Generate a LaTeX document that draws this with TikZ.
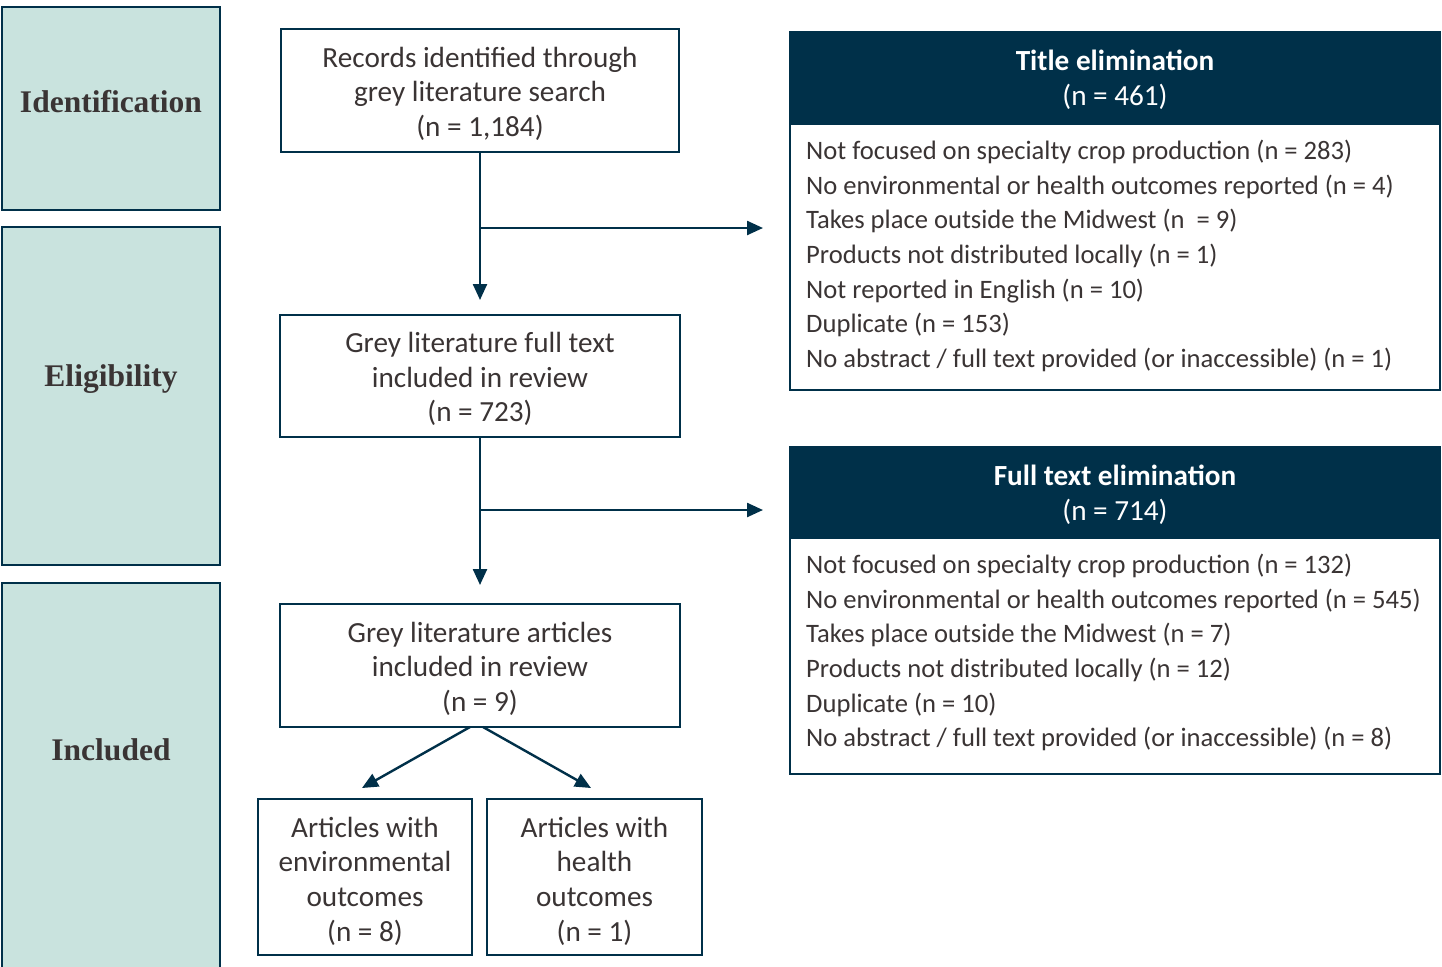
\documentclass[tikz,border=0pt]{standalone}
\usepackage{fontspec}
\setmainfont{Carlito}
\newfontfamily\stagefont{Liberation Serif}
\usetikzlibrary{arrows.meta}
\definecolor{navy}{HTML}{003049}
\definecolor{teal}{HTML}{C9E3DE}
\definecolor{txt}{HTML}{3A3434}
\begin{document}
\begin{tikzpicture}[x=1pt,y=-1pt,
  stage/.style={draw=navy,line width=2.6pt,fill=teal,inner sep=0pt},
  stagelabel/.style={font=\stagefont\bfseries\fontsize{31.5}{36}\selectfont,text=txt,inner sep=0pt},
  flowbox/.style={draw=navy,line width=2.6pt,fill=white,inner sep=0pt},
  flowtext/.style={inner sep=0pt,align=center,font=\fontsize{29.2}{34.6}\selectfont,text=txt},
  headbox/.style={draw=navy,line width=2.6pt,fill=navy,inner sep=0pt},
  headtext/.style={inner sep=0pt,align=center,font=\fontsize{29.2}{34.8}\selectfont,text=white},
  bodybox/.style={draw=navy,line width=2.6pt,fill=white,inner sep=0pt},
  bodytext/.style={align=left,inner sep=0pt,anchor=west,
    font=\fontsize{26.6}{34.65}\selectfont,text=txt},
  conn/.style={draw=navy,line width=2.4pt,-{Triangle[length=16pt,width=14pt]}}]
\useasboundingbox (0,0) rectangle (1442,966);
\fill[white] (0,0) rectangle (1442,966);
% stage boxes
\node[stage,minimum width=218pt,minimum height=203pt] (ident) at (111,108.5) {};
\node[stage,minimum width=218pt,minimum height=338pt] (elig) at (111,396) {};
\draw[draw=navy,line width=2.6pt,fill=teal] (2,990) -- (2,583) -- (220,583) -- (220,990);
\node[stagelabel] (identl) at (111,102) {Identification};
\node[stagelabel] (eligl) at (111,379) {Eligibility};
\node[stagelabel] (incl) at (111,750) {Included};
% flow boxes
\node[flowbox,minimum width=398pt,minimum height=123pt] (b1) at (480,90.5) {};
\node[flowtext] (b1t) at (480,93.5) {Records identified through\\grey literature search\\(n = 1,184)};
\node[flowbox,minimum width=400pt,minimum height=122pt] (b2) at (480,376) {};
\node[flowtext] (b2t) at (480,379) {Grey literature full text\\included in review\\(n = 723)};
\node[flowbox,minimum width=400pt,minimum height=123pt] (b3) at (480,665.5) {};
\node[flowtext] (b3t) at (480,668.5) {Grey literature articles\\included in review\\(n = 9)};
\node[flowbox,minimum width=214pt,minimum height=156pt] (b4) at (365,877) {};
\node[flowtext] (b4t) at (365,881) {Articles with\\environmental\\outcomes\\(n = 8)};
\node[flowbox,minimum width=215pt,minimum height=156pt] (b5) at (594.5,877) {};
\node[flowtext] (b5t) at (594.5,881) {Articles with\\health\\outcomes\\(n = 1)};
% title elimination
\node[headbox,minimum width=650pt,minimum height=92pt] (h1) at (1115,78) {};
\node[headtext] (h1t) at (1115,80) {\textbf{Title elimination}\\(n = 461)};
\node[bodybox,minimum width=650pt,minimum height=266pt] (e1) at (1115,257) {};
\node[bodytext] (e1t) at (806,256)
  {Not focused on specialty crop production (n = 283)\\
   No environmental or health outcomes reported (n = 4)\\
   Takes place outside the Midwest (n ~= 9)\\
   Products not distributed locally (n = 1)\\
   Not reported in English (n = 10)\\
   Duplicate (n = 153)\\
   No abstract / full text provided (or inaccessible) (n = 1)};
% full text elimination
\node[headbox,minimum width=650pt,minimum height=91pt] (h2) at (1115,492.5) {};
\node[headtext] (h2t) at (1115,494.5) {\textbf{Full text elimination}\\(n = 714)};
\node[bodybox,minimum width=650pt,minimum height=236pt] (e2) at (1115,656) {};
\node[bodytext] (e2t) at (806,652.5)
  {Not focused on specialty crop production (n = 132)\\
   No environmental or health outcomes reported (n = 545)\\
   Takes place outside the Midwest (n = 7)\\
   Products not distributed locally (n = 12)\\
   Duplicate (n = 10)\\
   No abstract / full text provided (or inaccessible) (n = 8)};
% connectors
\coordinate (t1) at (480,300);
\coordinate (j1) at (480,228);
\coordinate (r1) at (763,228);
\coordinate (t2) at (480,585);
\coordinate (j2) at (480,510);
\coordinate (r2) at (763,510);
\coordinate (s4) at (470,727);
\coordinate (s5) at (483,727);
\coordinate (a4) at (362,788);
\coordinate (a5) at (591,788);
\draw[conn] (b1.south) -- (t1);
\draw[conn] (j1) -- (r1);
\draw[conn] (b2.south) -- (t2);
\draw[conn] (j2) -- (r2);
\draw[conn] (s4) -- (a4);
\draw[conn] (s5) -- (a5);
\end{tikzpicture}
\end{document}
